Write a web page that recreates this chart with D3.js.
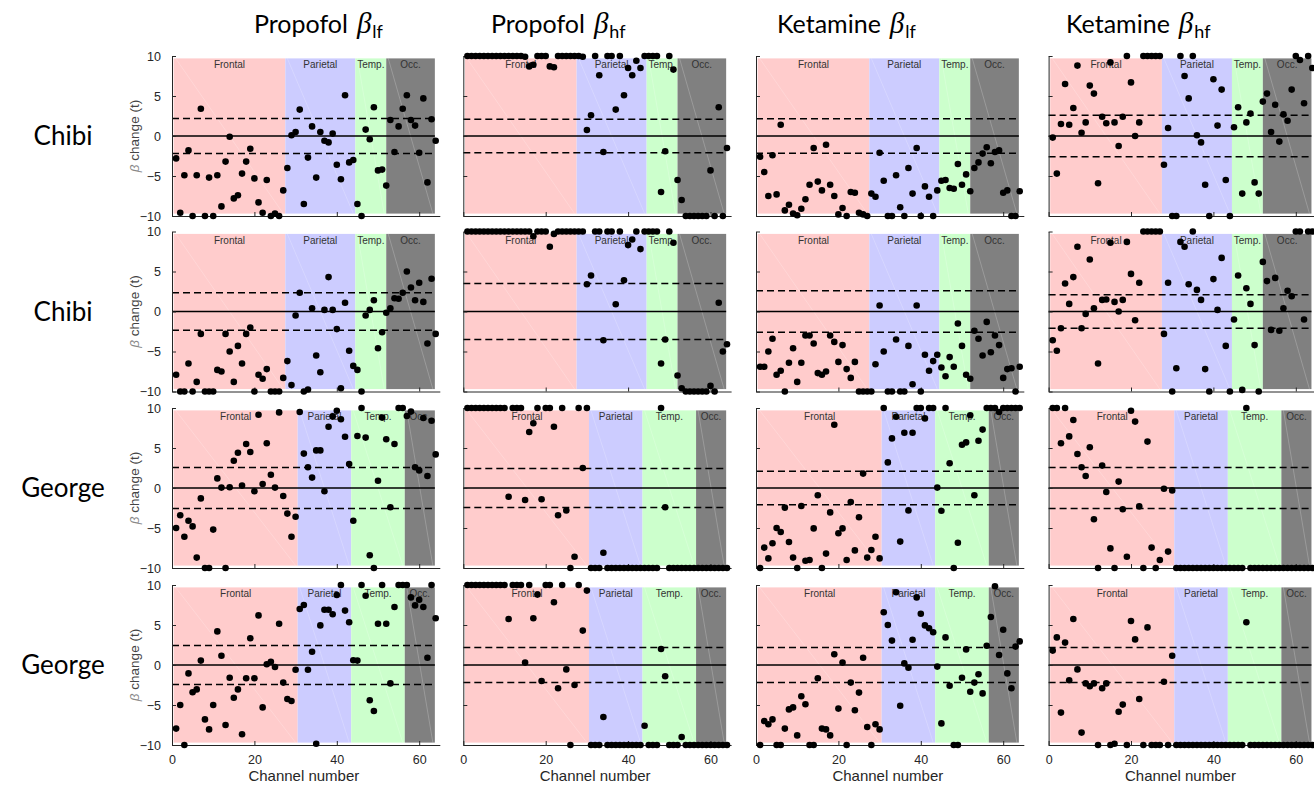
<!DOCTYPE html>
<html><head><meta charset="utf-8">
<script src="https://cdn.jsdelivr.net/npm/d3@7"></script>
<style>body{margin:0;background:#fff} svg{display:block}</style>
</head><body>
<svg id="chart" width="1314" height="785"></svg>
<script>
// ---------- DATA ----------
const rowLabels = ["Chibi", "Chibi", "George", "George"];
const drugs = ["Propofol", "Propofol", "Ketamine", "Ketamine"];
const bands = ["lf", "hf", "lf", "hf"];
const regionNames = ["Frontal", "Parietal", "Temp.", "Occ."];
const chibiBounds = [0.4, 27.5, 44.5, 52, 63.8];
const georgeBounds = [0.4, 30.5, 43.5, 56.5, 63.8];
const xTicks = [0, 20, 40, 60];
const yTicks = [-10, -5, 0, 5, 10];
const thresholds = [[2.2, 2.1, 2.15, 2.6], [2.35, 3.5, 2.6, 2.1], [2.55, 2.45, 2.1, 2.55], [2.45, 2.2, 2.2, 2.2]];

const chibi1PropLf = [-2.8,-9.6,-4.9,-1.8,-10,-4.9,3.4,-10,-5.2,-10, -4.9,-8.8,-3.2,-0.1,-7.8,-7.4,-4.7,-3.2,-1.6,-5.3, -8.3,-9.6,-5.5,-10,-9.7,-10,-6.8,-4.0,0.1,0.5, 3.3,-8.5,-2.7,1.2,-5.2,0.5,-0.6,-0.8,0.3,-3.6, -5.4,5.1,-3.3,-3.0,-8.5,-10,0.8,-0.4,3.6,-4.3, -4.2,-6.2,2.0,-2.0,1.2,3.4,5.1,2.0,1.3,-2.1, 4.7,-5.8,2.1,-0.6];
const chibi1PropHf = [10,10,10,10,10,10,10,10,10,10, 10,10,10,10,9.9,8.7,8.9,10,10,10, 8.7,8.6,10,10,10,10,10,10,9.9,0.75, 2.6,10,7.6,-2,10,10,3.3,10,5.1,8.5, 7.6,9.4,8.5,10,10,10,10,-7.0,-1.9,10, 8.3,-5.5,-8,-10,-10,-10,-10,-10,-10,-4.3, -10,3.6,-10,-1.5];
const chibi1KetLf = [-2.6,-4.5,-7.5,-2.4,-7.3,1.4,-9.3,-8.6,-9.7,-9.9, -9.1,-7.9,-6.1,-1.5,-5.7,-6.8,-1.1,-6.1,-7.5,-9.8, -9.0,-10,-7.0,-7.1,-9.6,-9.8,-10,-7.2,-7.6,-2.1, -5.6,-10,-10,-4.9,-8.9,-10,-4.0,-7.2,-1.5,-10, -6.3,-7.6,-10,-6.8,-5.6,-5.5,-6.5,-6.6,-3.5,-6.1, -4.8,-6.9,-4.0,-3.3,-2.2,-1.4,-3.4,-2.0,-1.8,-7.1, -6.8,-10,-10,-6.9];
const chibi1KetHf = [-0.2,-4.7,1.5,6.5,1.4,3.5,8.8,0.4,1.7,6.3, 5.3,-5.9,2.4,1.6,9.2,1.7,-1.25,2.4,10,6.7, 0,1.7,10,10,10,10,10,-3.6,1.0,-10, -10,10,7.5,4.7,10,0.1,-0.8,-6.1,-10,7.1, 1.3,5.8,-5.5,-10,1.1,3.6,-7.2,1.7,2.8,-5.8, -7.2,4.3,5.3,0.5,3.9,-0.7,2.7,1.9,5.8,10, 9.5,4.1,10,8.5];

const chibi2PropLf = [-7.9,-10,-10,-6.5,-10,-8.8,-2.8,-10,-10,-10, -7.3,-7.5,-2.8,-5.0,-8.8,-4.3,-6.5,-2.8,-2.0,-10, -7.9,-8.4,-7.2,-10,-10,-10,-8.3,-6.2,-9.2,-0.5, 2.35,-10,-9.75,0.4,-5.5,-7.6,0.2,4.3,0.2,-2.2, -9.6,1.1,-4.9,-6.8,-7.3,-10,-0.5,0.2,1.4,-4.6, -2.6,-0.15,0.4,1.65,1.6,2.35,5.0,3.0,1.4,3.6, 1.2,-4.0,4.1,-2.8];
const chibi2PropHf = [10,10,10,10,10,10,10,10,10,10, 10,10,10,10,10,10,9.4,10,10,10, 8.1,9.7,10,10,10,10,10,10,10,3.4, 4.5,10,10,-3.6,10,10,0.9,10,3.9,8.3, 9.0,10,7.8,10,10,10,10,-6.5,-3.5,10, 8.6,-8.0,-9.6,-10,-10,-10,-10,-10,-10,-9.3, -10,1.1,-5.0,-4.1];
const chibi2KetLf = [-6.9,-6.9,-5.0,-3.4,-7.9,-7.4,-10,-6.4,-4.6,-8.8, -6.4,-3.0,-3.0,-4.0,-7.7,-7.9,-7.5,-3.0,-3.8,-6.3, -4.2,-7.2,-8.3,-6.3,-10,-10,-10,-10,-6.6,0.75, -5.0,-10,-10,-3.5,-10,-10,-4.3,-9.1,0.75,-10, -5.4,-7.4,-6.2,-5.4,-7.0,-8.1,-5.7,-6.9,-1.5,-4.3, -7.9,-8.4,-2.4,-3.4,-5.5,-1.3,-5.1,-3.0,-4.2,-8.3, -7.2,-7.1,-10,-6.9];
const chibi2KetHf = [-3.6,-4.9,-2.1,3.5,0.95,4.3,8.1,-2.1,-0.3,6.5, 0.4,-6.5,1.45,1.5,8.6,1.2,0,1.45,8.7,4.7, -1.1,3.6,10,10,10,10,10,-2.8,3.6,-10, -7.1,8.7,8.1,3.4,10,2.7,1.45,-7.2,-10,4.05, 0.2,6.7,-4.3,-10,-1.0,4.5,-9.8,2.9,0.95,-4.2, -10,6.2,3.8,-2.3,4.2,-2.4,0.4,2.6,1.9,10, 10,-1.0,10,10];

const george1PropLf = [-5.0,-3.4,-6.1,-4.1,-4.8,-8.7,-1.3,-10,-10,-5.2, 1.2,0.05,-10,0.1,3.4,4.4,0.3,5.5,4.5,-0.4, 9.15,0.5,5.6,1.65,0.05,9.45,-1.0,-3.2,-6.1,-3.6, 9.5,4.3,2.6,1.3,4.7,4.7,-0.4,7.65,8.95,9.65, 8.6,6.4,3.0,-4.1,6.5,10,6.3,-8.4,-10,0.9, 8.8,6.1,-2.4,5.5,10,10,9.0,9.55,2.6,2.2, 8.75,1.5,8.4,4.2];
const george1PropHf = [10,10,10,10,10,10,10,10,10,10, -1.1,10,10,10,-1.5,7.0,8.1,10,-1.4,10, 10,7.65,-3.4,10,-2.8,-10,-8.6,10,2.5,10, -10,-10,-10,-8.1,-10,-10,-10,-10,-10,-10, -10,-10,-10,-10,-10,-10,-10,10,-2.4,-10, -10,-10,-10,-10,-10,-10,-10,-10,-10,-10, -10,-10,-10,-10];
const george1KetLf = [-10,-7.45,-8.8,-6.9,-5.0,-5.5,-2.45,-6.75,-8.7,-10, -2.25,-9.1,-9.0,-5.05,-0.9,-10,-8.2,-3.05,7.9,-5.65, -5.05,-9.0,-1.75,-7.8,-3.65,1.8,-8.7,-7.75,-6.1,-8.8, 10,3.2,6.2,8.9,-6.7,6.9,-2.8,6.9,10,10, 8.7,10,10,0.05,-2.85,10,3.1,-10,-6.85,5.4, 5.7,9.1,-0.9,5.9,7.3,10,10,10,9.5,10, 10,10,10,10];
const george1KetHf = [10,10,5.6,10,6.45,8.5,4.25,2.6,1.5,5.1, -3.9,-10,2.8,-0.5,-7.55,-10,0.8,-2.65,-8.6,9.65, 8.3,-2.3,-10,5.8,-7.45,-10,-9.0,-0.1,-7.95,-0.3, -10,-10,-10,-10,-10,-10,-10,-10,-10,-10, -10,-10,-10,-10,-10,-10,-10,10,-10,-10, -10,-10,-10,-10,-10,-10,-10,-10,-10,-10, -10,-10,-10,-10];

const george2PropLf = [-7.95,-5.0,-10,-1.05,-3.4,-3.05,0.55,-6.8,-8.05,-5.0, 4.2,1.15,-7.5,-1.6,-4.1,-3.05,-8.65,-1.65,3.35,-1.65, 6.2,-5.3,0.1,0.4,-0.25,5.15,-2.2,-4.25,-4.5,-0.6, 7.0,7.5,-0.6,1.65,-9.85,4.95,6.9,6.9,6.35,8.75, 10,6.8,5.35,0.6,0.55,10,8.65,-4.4,-5.75,5.15, 10,5.15,-2.3,7.25,10,10,10,8.45,7.45,8.15, 7.25,0.9,10,5.85];
const george2PropHf = [10,10,10,10,10,10,10,10,10,10, 5.75,10,10,10,0.3,10,5.85,8.8,-2.0,10, 10,7.85,-2.9,10,-0.55,-10,-2.5,10,4.3,9.3, -10,-10,-10,-6.5,-10,-10,-10,-10,-10,-10, -10,-10,-10,-7.6,-10,-10,-10,2.0,-1.4,-10, -10,-10,-9.0,-10,-10,-10,-10,-10,-10,-10, -10,-10,-10,-10];
const george2KetLf = [-10,-7.0,-7.4,-6.8,-10,-10,-7.95,-5.55,-5.3,-8.8, -3.9,-4.9,-10,-10,-1.65,-7.95,-8.05,-8.8,1.35,-5.45, 0.3,-10,-2.2,-5.65,-3.45,0.9,-7.75,-10,-7.4,-8.05, 6.6,5.0,3.05,9.1,-5.1,0.2,-0.35,3.15,8.45,6.4, 4.95,4.6,4.1,-0.2,-7.3,3.45,-2.6,-10,-10,-1.6, 1.95,-3.35,-2.2,-1.15,-3.55,2.4,6.0,9.85,1.25,4.4, -1.05,-2.9,2.3,2.95];
const george2KetHf = [1.8,3.45,-5.95,2.8,-1.9,5.75,-0.55,-8.45,-2.3,-2.65, -2.3,-10,-2.9,-2.3,-10,-9.85,-5.85,-4.95,-10,5.5, 3.2,-4.25,-10,4.7,-10,-10,-10,-2.1,-10,1.15, -10,-10,-10,-10,-10,-10,-10,-10,-10,-10, -10,-10,-10,-10,-10,-10,-10,5.35,-10,-10, -10,-10,-10,-10,-10,-10,-10,-10,-10,-10, -10,-10,-10,-10];

const panelData = [
  [chibi1PropLf, chibi1PropHf, chibi1KetLf, chibi1KetHf],
  [chibi2PropLf, chibi2PropHf, chibi2KetLf, chibi2KetHf],
  [george1PropLf, george1PropHf, george1KetLf, george1KetHf],
  [george2PropLf, george2PropHf, george2KetLf, george2KetHf]
];

// ---------- LAYOUT ----------
const colX = [172, 463.3, 756, 1048.6];
const rowY = [56, 231.5, 408, 585];
const W = 267.8, H = 160;
const titleX = [254, 491, 777, 1066];
const regionColors = ["#ffcccc", "#ccccff", "#ccffcc", "#808080"];
const axisColor = "#262626";
const sans = "'Liberation Sans', Arial, Helvetica, sans-serif";

const svg = d3.select("#chart");

// Column titles
drugs.forEach((d, c) => {
  const t = svg.append("text").attr("x", titleX[c]).attr("y", 33)
    .attr("font-family", "Lato, 'Open Sans', sans-serif").attr("font-size", 25).attr("fill", "#000");
  t.append("tspan").text(d);
  t.append("tspan").attr("dx", 9).attr("font-family", "'Liberation Serif', 'DejaVu Serif', serif")
    .attr("font-style", "italic").attr("font-size", 29).text("β");
  t.append("tspan").attr("dx", 1).attr("dy", 5).attr("font-size", 18).text(bands[c]);
});

// Row labels
rowLabels.forEach((lab, r) => {
  svg.append("text").attr("x", 63).attr("y", rowY[r] + H / 2).attr("dy", "0.35em")
    .attr("text-anchor", "middle").attr("font-family", "Lato, 'Open Sans', sans-serif")
    .attr("font-size", 26).attr("fill", "#000").text(lab);
});

panelData.forEach((rowArr, r) => rowArr.forEach((vals, c) => {
  const g = svg.append("g");
  const x = d3.scaleLinear().domain([0, 65]).range([colX[c], colX[c] + W]);
  const y = d3.scaleLinear().domain([-10, 10]).range([rowY[r] + H, rowY[r]]);
  const bounds = r < 2 ? chibiBounds : georgeBounds;

  regionNames.forEach((name, i) => {
    const x1 = x(bounds[i]), x2 = x(bounds[i + 1]);
    g.append("rect").attr("x", x1).attr("y", y(9.7)).attr("width", x2 - x1)
      .attr("height", y(-9.7) - y(9.7)).attr("fill", regionColors[i]);
    g.append("line").attr("x1", x1 + 2).attr("y1", y(9.7)).attr("x2", x2 - 2).attr("y2", y(-9.7))
      .attr("stroke", "#fff").attr("stroke-width", 0.6).attr("opacity", 0.35);
    g.append("text").attr("x", (x1 + x2) / 2).attr("y", y(9.7) + 10)
      .attr("text-anchor", "middle").attr("font-family", sans).attr("font-size", 10)
      .attr("fill", "#333").text(name);
  });

  // threshold lines
  const th = thresholds[r][c];
  [th, -th].forEach(v => {
    g.append("line").attr("x1", x(0)).attr("x2", x(63.8)).attr("y1", y(v)).attr("y2", y(v))
      .attr("stroke", "#000").attr("stroke-width", 1.5).attr("stroke-dasharray", "7,4");
  });
  g.append("line").attr("x1", x(0)).attr("x2", x(63.8)).attr("y1", y(0)).attr("y2", y(0))
    .attr("stroke", "#000").attr("stroke-width", 1.7);

  // axes
  const ya = d3.axisLeft(y).tickValues(yTicks).tickSizeInner(-4).tickSizeOuter(0).tickPadding(11);
  if (c > 0) ya.tickFormat("");
  const yg = g.append("g").attr("transform", `translate(${x(0)},0)`).call(ya);
  const xa = d3.axisBottom(x).tickValues(xTicks).tickSizeInner(-4).tickSizeOuter(0).tickPadding(10);
  if (r < 3) xa.tickFormat("");
  const xg = g.append("g").attr("transform", `translate(0,${y(-10)})`).call(xa);
  [yg, xg].forEach(a => {
    a.selectAll("path,line").attr("stroke", axisColor);
    a.selectAll("text").attr("font-family", sans).attr("font-size", 12.5).attr("fill", axisColor);
  });

  // points
  g.append("g").selectAll("circle").data(vals).join("circle")
    .attr("cx", (v, i) => x(i + 1)).attr("cy", v => y(v)).attr("r", 3.3).attr("fill", "#000");

  if (c === 0) {
    const yl = g.append("text").attr("transform", `translate(139,${y(0)}) rotate(-90)`)
      .attr("text-anchor", "middle").attr("font-family", sans).attr("font-size", 13.5).attr("fill", "#444");
    yl.append("tspan").attr("font-style", "italic").attr("fill", "#888").text("β");
    yl.append("tspan").text(" change (t)");
  }
  if (r === 3) {
    g.append("text").attr("x", x(32)).attr("y", 781).attr("text-anchor", "middle")
      .attr("font-family", sans).attr("font-size", 15).attr("fill", axisColor).text("Channel number");
  }
}));
</script></body></html>
